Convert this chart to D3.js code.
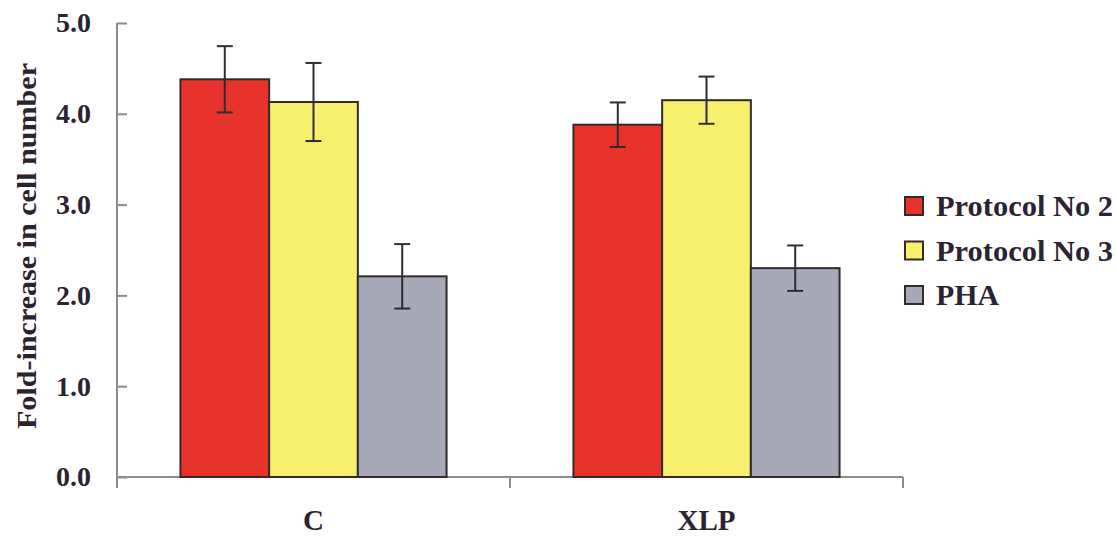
<!DOCTYPE html>
<html>
<head>
<meta charset="utf-8">
<script src="https://cdn.jsdelivr.net/npm/d3@7/dist/d3.min.js"></script>
<style>
  html, body { margin: 0; padding: 0; background: #fff; }
  svg { display: block; }
  text { font-family: "Liberation Serif", "Times New Roman", serif; font-weight: bold; fill: #2b2430; }
</style>
</head>
<body>
<svg id="chart" width="1116" height="537"></svg>
<script>
// ---- data ----
const categories = ["C", "XLP"];
const seriesNames = ["Protocol No 2", "Protocol No 3", "PHA"];
const protocol2 = [4.38, 3.88];
const protocol3 = [4.13, 4.15];
const pha = [2.21, 2.30];
const protocol2Err = [0.365, 0.245];
const protocol3Err = [0.43, 0.26];
const phaErr = [0.355, 0.25];
const yTicks = [0, 1, 2, 3, 4, 5];
const yLabel = "Fold-increase in cell number";
const colors = ["#e8322c", "#f7f06e", "#a8a9b8"];

(function () {
const values = [protocol2, protocol3, pha];
const errors = [protocol2Err, protocol3Err, phaErr];

const svg = d3.select("#chart");
const mLeft = 117, mRight = 903, mTop = 23, mBottom = 477;

const y = d3.scaleLinear().domain([0, 5]).range([mBottom, mTop]);
const x0 = d3.scaleBand().domain(categories).range([mLeft, mRight]).padding(0);
const x1 = d3.scaleBand().domain(seriesNames).range([0, x0.bandwidth()]).paddingInner(0).paddingOuter(0.715);

const axisColor = "#8c8c8c";

// y axis
const yAxis = svg.append("g").attr("transform", `translate(${mLeft},0)`)
  .call(d3.axisLeft(y).tickValues(yTicks).tickFormat(d3.format(".1f")).tickSizeInner(-10).tickSizeOuter(0).tickPadding(26));
yAxis.select(".domain").remove();
yAxis.selectAll(".tick line").attr("stroke", axisColor).attr("stroke-width", 2);
yAxis.selectAll(".tick text").attr("font-size", 28).attr("font-family", "Liberation Serif").attr("fill", "#2b2430");
svg.append("line").attr("x1", mLeft).attr("x2", mLeft).attr("y1", y(5)).attr("y2", mBottom + 11)
  .attr("stroke", axisColor).attr("stroke-width", 2);

// x axis line and boundary ticks
svg.append("line").attr("x1", mLeft).attr("x2", mRight).attr("y1", mBottom).attr("y2", mBottom)
  .attr("stroke", axisColor).attr("stroke-width", 2);
const bounds = categories.map(c => x0(c)).concat([x0(categories[categories.length - 1]) + x0.bandwidth()]);
svg.selectAll(".xtick").data(bounds).enter().append("line")
  .attr("x1", d => d).attr("x2", d => d).attr("y1", mBottom).attr("y2", mBottom + 11)
  .attr("stroke", axisColor).attr("stroke-width", 2);

// x labels
svg.selectAll(".xlab").data(categories).enter().append("text")
  .attr("x", d => x0(d) + x0.bandwidth() / 2).attr("y", 530)
  .attr("text-anchor", "middle").attr("font-size", 29).text(d => d);

// bars
const flat = [];
categories.forEach((c, i) => seriesNames.forEach((s, j) => flat.push({ c, s, j, v: values[j][i], e: errors[j][i] })));

svg.selectAll(".bar").data(flat).enter().append("rect")
  .attr("x", d => x0(d.c) + x1(d.s))
  .attr("y", d => y(d.v))
  .attr("width", x1.bandwidth())
  .attr("height", d => y(0) - y(d.v))
  .attr("fill", d => colors[d.j])
  .attr("stroke", "#352a2a").attr("stroke-width", 2);

// error bars
const eb = svg.selectAll(".err").data(flat).enter().append("g")
  .attr("stroke", "#302c36").attr("stroke-width", 2);
eb.append("line")
  .attr("x1", d => x0(d.c) + x1(d.s) + x1.bandwidth() / 2)
  .attr("x2", d => x0(d.c) + x1(d.s) + x1.bandwidth() / 2)
  .attr("y1", d => y(d.v + d.e)).attr("y2", d => y(d.v - d.e));
[1, -1].forEach(sgn => {
  eb.append("line")
    .attr("x1", d => x0(d.c) + x1(d.s) + x1.bandwidth() / 2 - 8)
    .attr("x2", d => x0(d.c) + x1(d.s) + x1.bandwidth() / 2 + 8)
    .attr("y1", d => y(d.v + sgn * d.e)).attr("y2", d => y(d.v + sgn * d.e));
});

// y label
svg.append("text")
  .attr("transform", `translate(36,246) rotate(-90)`)
  .attr("text-anchor", "middle").attr("font-size", 27)
  .attr("textLength", 366).attr("lengthAdjust", "spacingAndGlyphs")
  .text(yLabel);

// legend
const legendY = d3.scalePoint().domain(seriesNames).range([206, 295]);
const lg = svg.selectAll(".leg").data(seriesNames).enter().append("g")
  .attr("transform", d => `translate(905,${legendY(d)})`);
lg.append("rect").attr("x", 0).attr("y", -9).attr("width", 18).attr("height", 18)
  .attr("fill", (d, i) => colors[i]).attr("stroke", "#352a2a").attr("stroke-width", 2);
lg.append("text").attr("x", 31).attr("y", 10).attr("font-size", 29)
  .attr("textLength", (d) => d === "PHA" ? 63 : 177).attr("lengthAdjust", "spacingAndGlyphs")
  .text(d => d);
})();
</script>
</body>
</html>
